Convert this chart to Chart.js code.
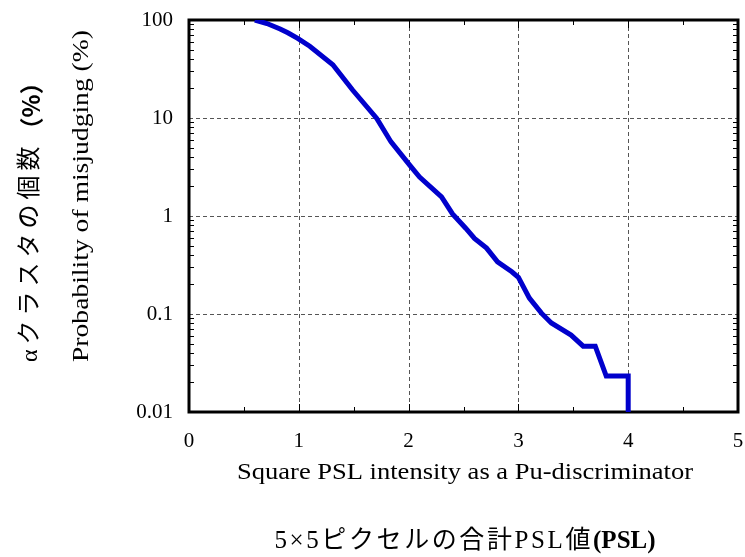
<!DOCTYPE html>
<html>
<head>
<meta charset="utf-8">
<script src="https://cdn.jsdelivr.net/npm/chart.js@4/dist/chart.umd.min.js"></script>
<style>
  html, body { margin: 0; padding: 0; background: #fff; }
  #wrap { width: 745px; height: 557px; }
</style>
</head>
<body>
<div id="wrap"><canvas id="c" width="745" height="557"></canvas></div>
<script>
// threshold (square PSL) vs. misjudging probability
var psl = [0.60, 0.71, 0.83, 0.90, 0.99, 1.10, 1.31, 1.49, 1.71, 1.84, 2.01, 2.10, 2.30, 2.40, 2.52,
           2.60, 2.71, 2.81, 2.94, 3.00, 3.10, 3.21, 3.30, 3.48, 3.59, 3.70, 3.80, 4.00, 4.00];
var prob = [100, 92, 81, 74, 65, 54, 35, 19.3, 9.9, 5.7, 3.3, 2.5, 1.57, 1.05, 0.75,
            0.59, 0.47, 0.34, 0.27, 0.237, 0.145, 0.102, 0.081, 0.061, 0.047, 0.047, 0.0233, 0.0233, 0.01];
var xTicks = [0, 1, 2, 3, 4, 5];
var xMinor = [0.5, 1.5, 2.5, 3.5, 4.5];
var yTicks = [0.01, 0.1, 1, 10, 100];

var serif = '"Liberation Serif", "Times New Roman", serif';
var jp = '"Liberation Serif", "Noto Sans CJK JP", serif';

var points = psl.map(function(v, i) { return { x: v, y: prob[i] }; });

// text stretched horizontally to a given width (the titles use a wide serif)
function wideText(ctx, text, x, y, width) {
    var w = ctx.measureText(text).width;
    ctx.save();
    ctx.translate(x, y);
    ctx.scale(width / w, 1);
    ctx.fillText(text, 0, 0);
    ctx.restore();
}

// one glyph at a time with extra gap, returns end x
function spacedText(ctx, text, x, y, gap) {
    Array.from(text).forEach(function(ch) {
        ctx.fillText(ch, x, y);
        x += ctx.measureText(ch).width + gap;
    });
    return x;
}
function spacedWidth(ctx, text, gap) {
    var w = 0;
    Array.from(text).forEach(function(ch) { w += ctx.measureText(ch).width + gap; });
    return w;
}

// grid + frame + inward ticks, drawn under the curve
var framePlugin = {
    id: 'frame',
    beforeDatasetsDraw: function(chart) {
        var ctx = chart.ctx;
        var a = chart.chartArea;
        var xs = chart.scales.x;
        var ys = chart.scales.y;
        ctx.save();

        // dashed grid at major ticks
        ctx.strokeStyle = '#555';
        ctx.lineWidth = 1;
        ctx.setLineDash([4, 3]);
        xTicks.slice(1, -1).forEach(function(v) {
            var px = Math.round(xs.getPixelForValue(v)) + 0.5;
            ctx.beginPath(); ctx.moveTo(px, a.top); ctx.lineTo(px, a.bottom); ctx.stroke();
        });
        yTicks.slice(1, -1).forEach(function(v) {
            var py = Math.round(ys.getPixelForValue(v)) + 0.5;
            ctx.beginPath(); ctx.moveTo(a.left, py); ctx.lineTo(a.right, py); ctx.stroke();
        });
        ctx.setLineDash([]);

        // tick marks pointing inward
        ctx.strokeStyle = '#000';
        ctx.lineWidth = 1;
        function vtick(px, len) {
            ctx.beginPath(); ctx.moveTo(px, a.bottom); ctx.lineTo(px, a.bottom - len); ctx.stroke();
            ctx.beginPath(); ctx.moveTo(px, a.top); ctx.lineTo(px, a.top + len); ctx.stroke();
        }
        function htick(py, len) {
            ctx.beginPath(); ctx.moveTo(a.left, py); ctx.lineTo(a.left + len, py); ctx.stroke();
            ctx.beginPath(); ctx.moveTo(a.right, py); ctx.lineTo(a.right - len, py); ctx.stroke();
        }
        xTicks.forEach(function(v) { vtick(Math.round(xs.getPixelForValue(v)) + 0.5, 8); });
        xMinor.forEach(function(v) { vtick(Math.round(xs.getPixelForValue(v)) + 0.5, 5); });
        for (var d = 0; d < yTicks.length - 1; d++) {
            for (var m = 2; m <= 9; m++) {
                htick(Math.round(ys.getPixelForValue(yTicks[d] * m)) + 0.5, 5);
            }
        }

        // frame
        ctx.lineWidth = 3;
        ctx.strokeRect(a.left, a.top, a.right - a.left, a.bottom - a.top);
        ctx.restore();
    },
    afterDraw: function(chart) {
        var ctx = chart.ctx;
        ctx.save();
        ctx.fillStyle = '#000';
        ctx.textBaseline = 'alphabetic';
        ctx.textAlign = 'left';

        // x titles
        ctx.font = '24px ' + serif;
        wideText(ctx, 'Square PSL intensity as a Pu-discriminator', 237, 479, 456);

        var j1 = '5×5ピクセルの合計PSL値';
        var j2 = '(PSL)';
        ctx.font = '25px ' + jp;
        var w1 = spacedWidth(ctx, j1, 2.6);
        ctx.font = 'bold 25px ' + jp;
        var w2 = ctx.measureText(j2).width;
        var sx = 465 - (w1 + w2) / 2;
        ctx.font = '25px ' + jp;
        sx = spacedText(ctx, j1, sx, 548, 2.6);
        ctx.font = 'bold 25px ' + jp;
        ctx.fillText(j2, sx, 548);

        // y titles, rotated
        ctx.save();
        ctx.translate(88, 362);
        ctx.rotate(-Math.PI / 2);
        ctx.font = '24px ' + serif;
        wideText(ctx, 'Probability of misjudging (%)', 0, 0, 332);
        ctx.restore();

        ctx.save();
        ctx.translate(31, 362);
        ctx.rotate(-Math.PI / 2);
        ctx.textBaseline = 'middle';
        ctx.font = '24px ' + jp;
        var kx = spacedText(ctx, 'αクラスタの個数', 0, 0, 5);
        ctx.font = 'bold 24px "Noto Sans CJK JP", sans-serif';
        ctx.fillText('（%）', kx, 0);
        ctx.restore();

        ctx.restore();
    }
};

new Chart(document.getElementById('c'), {
    type: 'scatter',
    data: {
        datasets: [{
            data: points,
            showLine: true,
            borderColor: '#0000cc',
            borderWidth: 5,
            borderJoinStyle: 'miter',
            pointRadius: 0,
            tension: 0
        }]
    },
    options: {
        responsive: false,
        animation: false,
        layout: { padding: { top: 20, right: 7, left: 0, bottom: 0 } },
        plugins: { legend: { display: false }, tooltip: { enabled: false } },
        scales: {
            x: {
                type: 'linear',
                min: 0,
                max: 5,
                afterBuildTicks: function(s) { s.ticks = xTicks.map(function(v) { return { value: v }; }); },
                afterFit: function(s) { s.height = 145; s.paddingLeft = 0; s.paddingRight = 0; },
                grid: { display: false, drawTicks: false },
                border: { display: false },
                ticks: { color: '#000', padding: 17, maxRotation: 0, font: { family: serif, size: 21 } }
            },
            y: {
                type: 'logarithmic',
                min: 0.01,
                max: 100,
                afterBuildTicks: function(s) { s.ticks = yTicks.map(function(v) { return { value: v }; }); },
                afterFit: function(s) { s.width = 189; s.paddingTop = 0; s.paddingBottom = 0; },
                grid: { display: false, drawTicks: false },
                border: { display: false },
                ticks: {
                    color: '#000',
                    padding: 16,
                    font: { family: serif, size: 21 },
                    callback: function(v) { return String(v); }
                }
            }
        }
    },
    plugins: [framePlugin]
});
</script>
</body>
</html>
